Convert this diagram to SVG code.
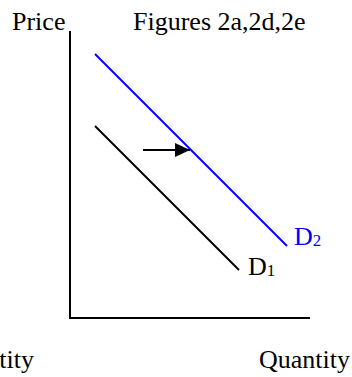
<svg xmlns="http://www.w3.org/2000/svg" width="352" height="377" viewBox="0 0 352 377" font-family="'Liberation Serif', 'Times New Roman', Times, 'DejaVu Serif', serif">
<style>
.t{font-family:'Liberation Serif','Times New Roman',Times,'DejaVu Serif',serif;font-size:26px;fill:#000}
.blue{fill:#0000ff}
.sub{font-size:17px}
</style>
<defs>
<marker id="ah" markerWidth="15" markerHeight="14" refX="15" refY="7" orient="auto" markerUnits="userSpaceOnUse">
<path d="M0,0 L15,7 L0,14 Z" fill="#000"/>
</marker>
</defs>
<rect width="352" height="377" fill="#fff"/>
<g id="axes" fill="none" stroke="#000" stroke-width="2">
<path d="M70,31 L70,318 L310,318"/>
</g>
<g id="labels">
<text class="t" x="12" y="30">Price</text>
<text class="t" x="133" y="30">Figures 2a,2d,2e</text>
<text class="t" x="259" y="368">Quantity</text>
<text class="t" x="-57" y="368">Quantity</text>
</g>
<g id="D2">
<line x1="95" y1="54" x2="287" y2="246" stroke="#0000ff" stroke-width="2"/>
<text x="294" y="245" class="t blue">D<tspan class="sub" dy="1">2</tspan></text>
</g>
<g id="D1">
<line x1="95" y1="126" x2="239" y2="270" stroke="#000" stroke-width="2"/>
<text x="248" y="275" class="t">D<tspan class="sub" dy="1">1</tspan></text>
</g>
<g id="connectors">
<line x1="143" y1="150" x2="190" y2="150" stroke="#000" stroke-width="2" marker-end="url(#ah)"/>
</g>
</svg>
